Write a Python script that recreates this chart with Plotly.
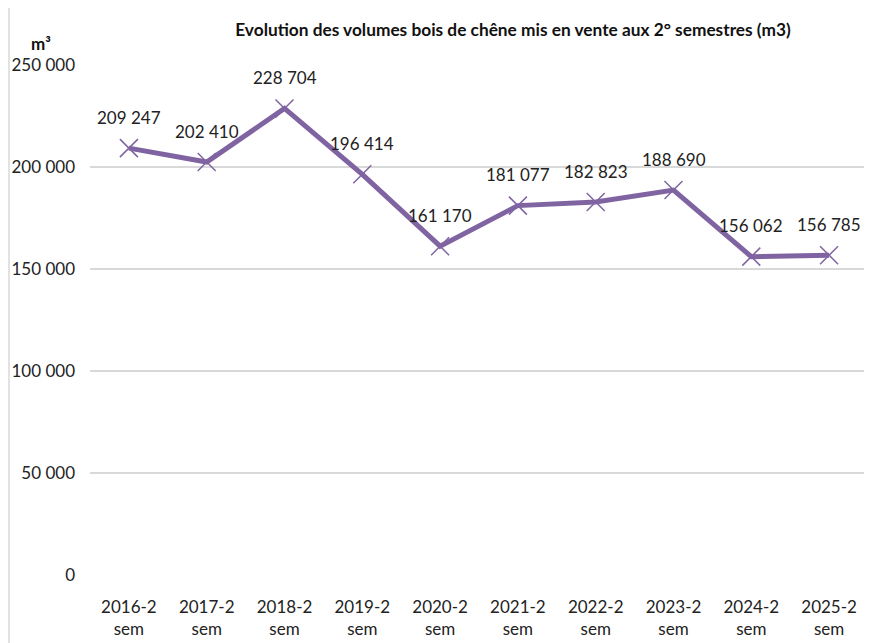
import plotly.graph_objects as go

periodes = ["2016-2<br>sem", "2017-2<br>sem", "2018-2<br>sem", "2019-2<br>sem", "2020-2<br>sem",
            "2021-2<br>sem", "2022-2<br>sem", "2023-2<br>sem", "2024-2<br>sem", "2025-2<br>sem"]
volumes = [209247, 202410, 228704, 196414, 161170, 181077, 182823, 188690, 156062, 156785]
y_ticks = [0, 50000, 100000, 150000, 200000, 250000]

violet = "#8064A2"
police = "Lato, 'Open Sans', sans-serif"

etiquettes = [f"{v:,}".replace(",", " ") for v in volumes]

fig = go.Figure()
fig.add_trace(go.Scatter(
    x=periodes, y=volumes,
    mode="lines+markers",
    line=dict(color=violet, width=5),
    marker=dict(symbol="x-thin", size=18, line=dict(color=violet, width=1.5), color=violet),
    showlegend=False,
))

# étiquettes de données au-dessus des points
notes = [dict(x=p, y=v, text=t, showarrow=False, yshift=31,
              font=dict(size=17, color="#222"))
         for p, v, t in zip(periodes, volumes, etiquettes)]
# unité de l'axe y
notes.append(dict(text="<b>m³</b>", xref="paper", yref="paper", x=-0.0625, y=1.043,
                  xanchor="center", yanchor="middle", showarrow=False,
                  font=dict(family=police, size=17, color="#111")))

# la page ajoute une marge de 8 px : figure réduite d'autant
fig.update_layout(
    width=864, height=635,
    margin=dict(l=82, r=4, t=57, b=68),
    paper_bgcolor="white", plot_bgcolor="white",
    font=dict(family=police, size=17, color="#222"),
    separators=", ",
    title=dict(text="<b>Evolution des volumes bois de chêne mis en vente aux 2° semestres (m3)</b>",
               x=0.5845, xanchor="center", y=0.9654, yanchor="middle",
               font=dict(size=17.3, color="#111")),
    xaxis=dict(range=[-0.5, len(periodes) - 0.5], showgrid=False, showline=False, ticks="",
               tickfont=dict(size=17), ticklabelstandoff=20, automargin=False),
    yaxis=dict(range=[0, 250000], tickvals=y_ticks, tickformat=",d",
               showgrid=True, gridcolor="#d9d9d9", gridwidth=1.5, zeroline=False,
               showline=False, ticks="", ticklabelstandoff=14, tickfont=dict(size=17),
               automargin=False),
    shapes=[dict(type="rect", xref="paper", yref="paper", x0=-0.1041, x1=1.0026, y0=-0.3, y1=1.3,
                 line=dict(color="#d9d9d9", width=1.5))],
    annotations=notes,
)

fig.write_html("out.html")
